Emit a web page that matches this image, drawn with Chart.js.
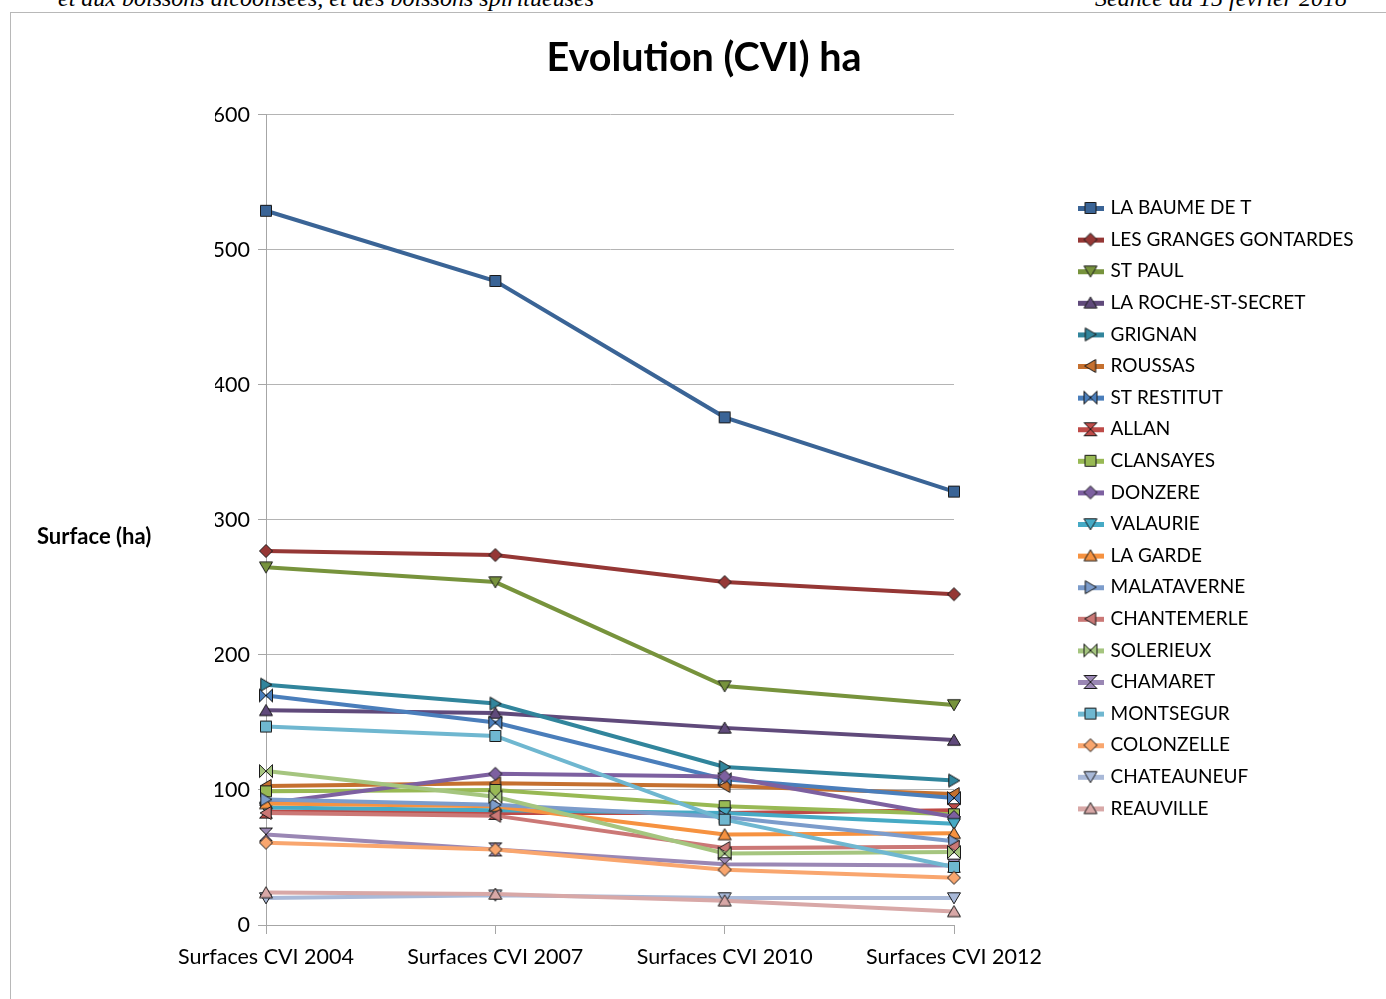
<!DOCTYPE html>
<html>
<head>
<meta charset="utf-8">
<title>Evolution (CVI) ha</title>
<script src="https://cdn.jsdelivr.net/npm/chart.js@4.4.1/dist/chart.umd.min.js"></script>
<style>
  html, body { margin: 0; padding: 0; background: #fff; overflow: hidden; }
  body { width: 1386px; height: 999px; position: relative; }
  .head { position: absolute; top: -14px; font: italic 24px "Liberation Serif", serif; line-height: 24px; color: #000; white-space: nowrap; }
  #frame { position: absolute; left: 10px; top: 12px; right: 0; bottom: -2px; border-top: 1px solid #b8b8b8; border-left: 1px solid #b8b8b8; }
  #wrap { position: absolute; left: 11px; top: 13px; width: 1375px; height: 986px; }
</style>
</head>
<body>
<div class="head" style="left:58px">et aux boissons alcoolisées, et des boissons spiritueuses</div>
<div class="head" style="left:1095px">Séance du 15 février 2018</div>
<div id="frame"></div>
<div id="wrap"><canvas id="chart"></canvas></div>
<script>
const labels = ["Surfaces CVI 2004", "Surfaces CVI 2007", "Surfaces CVI 2010", "Surfaces CVI 2012"];
const yTicks = [0, 100, 200, 300, 400, 500, 600];

const laBaumeDeT = [529, 477, 376, 321];
const lesGrangesGontardes = [277, 274, 254, 245];
const stPaul = [265, 254, 177, 163];
const laRocheStSecret = [159, 157, 146, 137];
const grignan = [178, 164, 117, 107];
const roussas = [103, 105, 103, 97];
const stRestitut = [170, 150, 108, 94];
const allan = [84, 83, 83, 85];
const clansayes = [99, 100, 88, 82];
const donzere = [90, 112, 110, 80];
const valaurie = [87, 85, 83, 75];
const laGarde = [90, 88, 67, 68];
const malataverne = [93, 89, 80, 62];
const chantemerle = [83, 81, 57, 58];
const solerieux = [114, 95, 53, 54];
const chamaret = [67, 56, 45, 44];
const montsegur = [147, 140, 78, 43];
const colonzelle = [61, 56, 41, 35];
const chateauneuf = [20, 22, 20, 20];
const reauville = [24, 23, 18, 10];

const series = [
  { name: "LA BAUME DE T", data: laBaumeDeT, color: "#3a6496", shape: "square" },
  { name: "LES GRANGES GONTARDES", data: lesGrangesGontardes, color: "#953735", shape: "diamond" },
  { name: "ST PAUL", data: stPaul, color: "#77933c", shape: "down" },
  { name: "LA ROCHE-ST-SECRET", data: laRocheStSecret, color: "#604a7b", shape: "up" },
  { name: "GRIGNAN", data: grignan, color: "#31859c", shape: "right" },
  { name: "ROUSSAS", data: roussas, color: "#c5702f", shape: "left" },
  { name: "ST RESTITUT", data: stRestitut, color: "#4a7ebb", shape: "bowtie" },
  { name: "ALLAN", data: allan, color: "#be4b48", shape: "hourglass" },
  { name: "CLANSAYES", data: clansayes, color: "#98b954", shape: "square" },
  { name: "DONZERE", data: donzere, color: "#7d60a0", shape: "diamond" },
  { name: "VALAURIE", data: valaurie, color: "#46aac5", shape: "down" },
  { name: "LA GARDE", data: laGarde, color: "#f69240", shape: "up" },
  { name: "MALATAVERNE", data: malataverne, color: "#7c9ccb", shape: "right" },
  { name: "CHANTEMERLE", data: chantemerle, color: "#cb7876", shape: "left" },
  { name: "SOLERIEUX", data: solerieux, color: "#a5c57f", shape: "bowtie" },
  { name: "CHAMARET", data: chamaret, color: "#9a87b4", shape: "hourglass" },
  { name: "MONTSEGUR", data: montsegur, color: "#6fb7d0", shape: "square" },
  { name: "COLONZELLE", data: colonzelle, color: "#f9a66e", shape: "diamond" },
  { name: "CHATEAUNEUF", data: chateauneuf, color: "#a9b9d8", shape: "down" },
  { name: "REAUVILLE", data: reauville, color: "#d8a8a7", shape: "up" }
];

const legendFont = { family: "Lato", size: 19 };
const legendPad = 12.6;
const legendBox = 21;
const legendSlot = 150; // width the layout reserves for the legend

// marker outline for one of the Excel-like symbols, centred on (cx, cy)
function tracePath(ctx, shape, cx, cy) {
  const r = shape === "square" ? 5.5 : 6.5;
  ctx.beginPath();
  if (shape === "square") {
    ctx.rect(cx - r, cy - r, 2 * r, 2 * r);
  } else if (shape === "diamond") {
    ctx.moveTo(cx, cy - r); ctx.lineTo(cx + r, cy); ctx.lineTo(cx, cy + r); ctx.lineTo(cx - r, cy);
  } else if (shape === "down") {
    ctx.moveTo(cx - r, cy - r * 0.8); ctx.lineTo(cx + r, cy - r * 0.8); ctx.lineTo(cx, cy + r * 0.9);
  } else if (shape === "up") {
    ctx.moveTo(cx - r, cy + r * 0.8); ctx.lineTo(cx + r, cy + r * 0.8); ctx.lineTo(cx, cy - r * 0.9);
  } else if (shape === "right") {
    ctx.moveTo(cx - r * 0.8, cy - r); ctx.lineTo(cx - r * 0.8, cy + r); ctx.lineTo(cx + r * 0.9, cy);
  } else if (shape === "left") {
    ctx.moveTo(cx + r * 0.8, cy - r); ctx.lineTo(cx + r * 0.8, cy + r); ctx.lineTo(cx - r * 0.9, cy);
  } else if (shape === "bowtie") {
    ctx.moveTo(cx - r, cy - r); ctx.lineTo(cx + r, cy + r); ctx.lineTo(cx + r, cy - r); ctx.lineTo(cx - r, cy + r);
  } else if (shape === "hourglass") {
    ctx.moveTo(cx - r, cy - r); ctx.lineTo(cx + r, cy - r); ctx.lineTo(cx - r, cy + r); ctx.lineTo(cx + r, cy + r);
  }
  ctx.closePath();
}

function makeMarker(shape, color) {
  const c = document.createElement("canvas");
  c.width = 16; c.height = 16;
  const ctx = c.getContext("2d");
  tracePath(ctx, shape, 8, 8);
  ctx.fillStyle = color;
  ctx.fill();
  ctx.lineWidth = 1;
  ctx.strokeStyle = "#1a1a1a";
  ctx.stroke();
  return c;
}

function makeLegendIcon(shape, color) {
  const c = document.createElement("canvas");
  c.width = 26; c.height = 16;
  const ctx = c.getContext("2d");
  ctx.fillStyle = color;
  ctx.fillRect(0, 6, 26, 5);
  tracePath(ctx, shape, 13, 8);
  ctx.fill();
  ctx.lineWidth = 1;
  ctx.strokeStyle = "#1a1a1a";
  ctx.stroke();
  return c;
}

const legendIcons = series.map(s => makeLegendIcon(s.shape, s.color));

// full width the legend text needs once it is moved into place
const measure = document.createElement("canvas").getContext("2d");
measure.font = legendFont.size + "px " + legendFont.family;
const longest = Math.max(...series.map(s => measure.measureText(s.name).width));
const legendWidth = 2 * legendPad + legendBox + legendFont.size / 2 + longest;

const datasets = series.map((s, i) => ({
  label: s.name,
  data: s.data,
  borderColor: s.color,
  backgroundColor: s.color,
  borderWidth: 4,
  tension: 0,
  pointStyle: makeMarker(s.shape, s.color),
  pointRadius: 6,
  order: series.length - i
}));

const frameLayout = {
  id: "frameLayout",
  afterLayout(chart) {
    const lg = chart.legend;
    lg.left = 1069 - legendPad;
    lg.width = legendWidth;
    lg.right = lg.left + legendWidth;
    lg.top = 195 - legendFont.size / 2 - legendPad;
    lg.bottom = chart.height;
    lg.height = lg.bottom - lg.top;
    const t = chart.titleBlock;
    const shift = 693 - (t.left + t.right) / 2;
    t.left += shift;
    t.right += shift;
  },
  afterDraw(chart) {
    const ctx = chart.ctx;
    ctx.save();
    ctx.font = "bold 22px Lato";
    ctx.fillStyle = "#000";
    ctx.textAlign = "left";
    ctx.textBaseline = "middle";
    ctx.fillText("Surface (ha)", 26, 524);
    ctx.restore();
  }
};

const ctx = document.getElementById("chart").getContext("2d");
new Chart(ctx, {
  type: "line",
  data: { labels: labels, datasets: datasets },
  plugins: [frameLayout],
  options: {
    responsive: true,
    maintainAspectRatio: false,
    animation: false,
    layout: { padding: { left: 204, right: 1375 - 943 - legendSlot, top: 0, bottom: 30 } },
    plugins: {
      title: {
        display: true,
        text: "Evolution (CVI) ha",
        color: "#000",
        font: { family: "Lato", size: 39.5, weight: "bold" },
        padding: { top: 22, bottom: 32.5 }
      },
      legend: {
        position: "right",
        align: "start",
        maxWidth: legendSlot,
        labels: {
          usePointStyle: true,
          pointStyleWidth: legendBox,
          padding: legendPad,
          color: "#000",
          font: legendFont,
          generateLabels: (chart) => chart.data.datasets.map((ds, i) => ({
            text: ds.label,
            pointStyle: legendIcons[i],
            fillStyle: "transparent",
            strokeStyle: "transparent",
            lineWidth: 0,
            hidden: false,
            datasetIndex: i
          }))
        }
      },
      tooltip: { enabled: false }
    },
    scales: {
      x: {
        offset: false,
        grid: { drawOnChartArea: false, color: "#a6a6a6", tickLength: 9, tickColor: "#a6a6a6" },
        border: { color: "#a6a6a6" },
        ticks: { color: "#000", font: { family: "Lato", size: 21.5 }, padding: 10, maxRotation: 0 },
        afterFit: (scale) => { scale.height = 44; }
      },
      y: {
        min: 0,
        max: 600,
        afterBuildTicks: (scale) => { scale.ticks = yTicks.map(v => ({ value: v })); },
        grid: { color: "#b4b4b4", tickLength: 8, tickColor: "#a6a6a6" },
        border: { color: "#a6a6a6" },
        ticks: { color: "#000", font: { family: "Lato", size: 21.5 }, padding: 8 },
        afterFit: (scale) => { scale.width = 51; }
      }
    }
  }
});
</script>
</body>
</html>
